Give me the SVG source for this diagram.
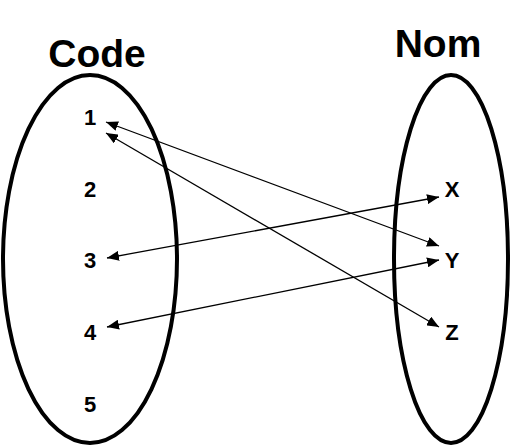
<svg xmlns="http://www.w3.org/2000/svg" width="515" height="445" viewBox="0 0 515 445">
<style>
.set{fill:none;stroke:#000;stroke-width:4}
.title{font-family:"Liberation Sans",Arial,sans-serif;font-weight:bold;font-size:39px;fill:#000}
.lbl{font-family:"Liberation Sans",Arial,sans-serif;font-weight:bold;font-size:22px;fill:#000;text-anchor:middle}
.conn{fill:none;stroke:#000;stroke-width:1.3;marker-start:url(#ah);marker-end:url(#ah)}
</style>
<defs>
<marker id="ah" viewBox="0 0 12 10" refX="12" refY="5" markerWidth="12" markerHeight="10" markerUnits="userSpaceOnUse" orient="auto-start-reverse">
<path d="M0,0 L12,5 L0,10 Z" fill="#000"/>
</marker>
</defs>
<rect width="515" height="445" fill="#fff"/>
<g id="set-code">
<ellipse class="set" cx="90" cy="259" rx="87" ry="184"/>
<text class="title" x="97" y="67" text-anchor="middle">Code</text>
</g>
<g id="set-nom">
<ellipse class="set" cx="451" cy="259" rx="57" ry="184"/>
<text class="title" x="438" y="57" text-anchor="middle">Nom</text>
</g>
<g id="node-1"><text class="lbl" x="90" y="125">1</text></g>
<g id="node-2"><text class="lbl" x="90" y="197">2</text></g>
<g id="node-3"><text class="lbl" x="90" y="268">3</text></g>
<g id="node-4"><text class="lbl" x="90" y="340">4</text></g>
<g id="node-5"><text class="lbl" x="90" y="412">5</text></g>
<g id="node-X"><text class="lbl" x="452" y="197">X</text></g>
<g id="node-Y"><text class="lbl" x="452" y="268">Y</text></g>
<g id="node-Z"><text class="lbl" x="452" y="340">Z</text></g>
<g id="connectors">
<line class="conn" x1="106" y1="122" x2="439" y2="246"/>
<line class="conn" x1="106" y1="133" x2="439" y2="327"/>
<line class="conn" x1="107" y1="258" x2="439" y2="197"/>
<line class="conn" x1="107" y1="327" x2="439" y2="260"/>
</g>
</svg>
